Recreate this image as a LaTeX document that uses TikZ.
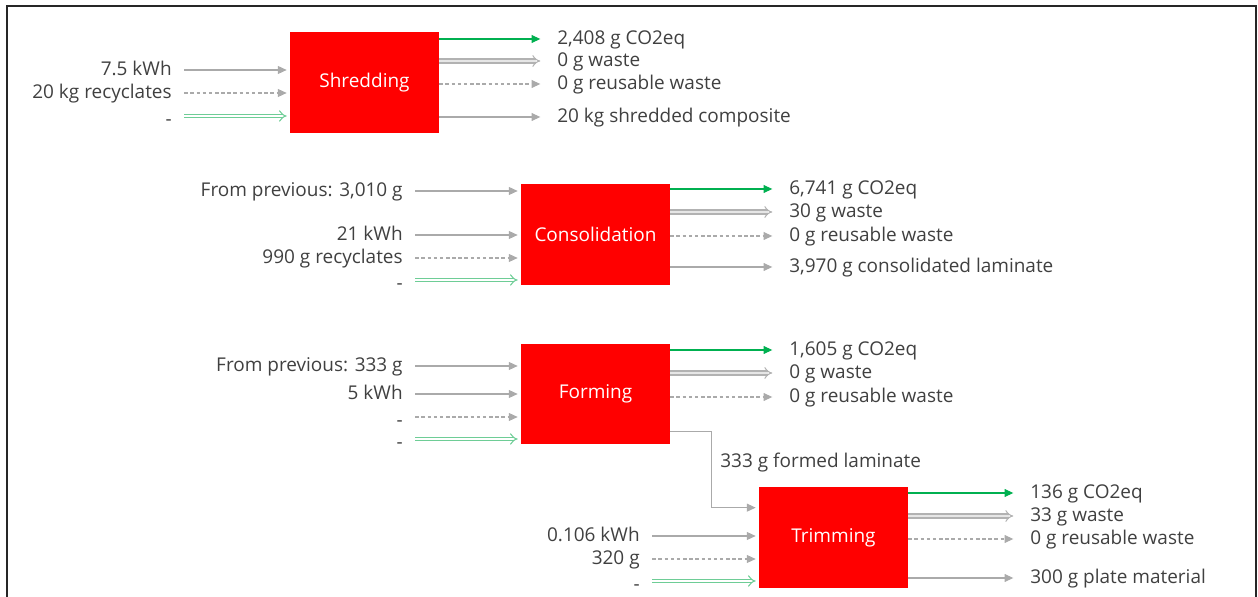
\documentclass[tikz,border=0pt]{standalone}
\usepackage{fontspec}
\setmainfont{Open Sans}
\usetikzlibrary{arrows.meta,calc}
\definecolor{procred}{RGB}{255,0,0}
\definecolor{cogreen}{RGB}{0,176,80}
\definecolor{ltgreen}{RGB}{110,205,150}
\definecolor{flowgray}{RGB}{170,170,170}
\definecolor{txtgray}{RGB}{64,64,64}
\tikzset{
  proc/.style={fill=procred, text=white, font=\fontsize{10.8}{12}\selectfont,
               minimum width=2.98cm, minimum height=2.02cm, inner sep=0pt},
  lin/.style={anchor=east, text=txtgray, inner sep=0pt,
              text height=1.5ex, text depth=0.3ex,
              font=\fontsize{10.8}{12}\selectfont},
  lnil/.style={lin, text height=2ex, text depth=0pt},
  lout/.style={anchor=west, text=txtgray, inner sep=0pt,
               text height=1.5ex, text depth=0.3ex,
               font=\fontsize{10.8}{12}\selectfont},
  flow/.style={-{Triangle[length=5pt,width=4.5pt]}, draw=flowgray, line width=0.6pt},
  dflow/.style={flow, dash pattern=on 2pt off 1.5pt},
  co2/.style={-{Triangle[length=5pt,width=4.5pt]}, draw=cogreen, line width=0.6pt},
  wst/.style={-{Implies}, draw=flowgray!90, double=flowgray!30,
              line width=0.6pt, double distance=1.7pt},
  nil/.style={-{Implies}, draw=ltgreen, double=white,
              line width=0.6pt, double distance=1.6pt},
  ins/.style={shorten <=7pt, shorten >=1.7pt},
  outs/.style={shorten >=9.5pt},
}

\begin{document}
\begin{tikzpicture}[x=0.02cm, y=-0.02cm]
\useasboundingbox (0,0) rectangle (1258,597);
\draw[line width=1.1pt, black!85] (7,597) -- (7,6) -- (1256,6) -- (1256,597);

% Shredding
\node[proc] (sh) at (364.5,82.5) {Shredding};
\node[lin]  (sh-kwh) at (172,70)  {7.5 kWh};
\node[lin]  (sh-rec) at (172,93)  {20 kg recyclates};
\node[lnil] (sh-nil) at (172,116) {-};
\node[lout] (sh-co2) at (557,39)  {2,408 g CO2eq};
\node[lout] (sh-wst) at (557,61)  {0 g waste};
\node[lout] (sh-reu) at (557,84)  {0 g reusable waste};
\node[lout] (sh-prd) at (557,117) {20 kg shredded composite};

\draw[flow,ins]  (sh-kwh) -- (sh-kwh -| sh.west);
\draw[dflow,ins] (sh-rec) -- (sh-rec -| sh.west);
\draw[nil,ins]   (sh-nil) -- (sh-nil -| sh.west);
\draw[co2,outs]  (sh-co2 -| sh.east) -- (sh-co2);
\draw[wst,outs]  (sh-wst -| sh.east) -- (sh-wst);
\draw[dflow,outs] (sh-reu -| sh.east) -- (sh-reu);
\draw[flow,outs] (sh-prd -| sh.east) -- (sh-prd);

% Consolidation
\node[proc] (co) at (595.5,234.5) {Consolidation};
\node[lin]  (co-prev) at (403,191) {From previous: 3,010 g};
\node[lin]  (co-kwh)  at (403,235) {21 kWh};
\node[lin]  (co-rec)  at (403,258) {990 g recyclates};
\node[lnil] (co-nil)  at (403,280) {-};
\node[lout] (co-co2)  at (789,189) {6,741 g CO2eq};
\node[lout] (co-wst)  at (789,212) {30 g waste};
\node[lout] (co-reu)  at (789,236) {0 g reusable waste};
\node[lout] (co-prd)  at (789,267) {3,970 g consolidated laminate};

\draw[flow,ins]  (co-prev) -- (co-prev -| co.west);
\draw[flow,ins]  (co-kwh) -- (co-kwh -| co.west);
\draw[dflow,ins] (co-rec) -- (co-rec -| co.west);
\draw[nil,ins]   (co-nil) -- (co-nil -| co.west);
\draw[co2,outs]  (co-co2 -| co.east) -- (co-co2);
\draw[wst,outs]  (co-wst -| co.east) -- (co-wst);
\draw[dflow,outs] (co-reu -| co.east) -- (co-reu);
\draw[flow,outs] (co-prd -| co.east) -- (co-prd);

% Forming
\node[proc] (fo) at (595.5,394) {Forming};
\node[lin]  (fo-prev) at (403,366) {From previous: 333 g};
\node[lin]  (fo-kwh)  at (403,394) {5 kWh};
\node[lnil] (fo-rec)  at (403,417) {-};
\node[lnil] (fo-nil)  at (403,439) {-};
\node[lout] (fo-co2)  at (789,350) {1,605 g CO2eq};
\node[lout] (fo-wst)  at (789,373) {0 g waste};
\node[lout] (fo-reu)  at (789,397) {0 g reusable waste};
\node[lout] (fo-lam)  at (720,462) {333 g formed laminate};

\draw[flow,ins]  (fo-prev) -- (fo-prev -| fo.west);
\draw[flow,ins]  (fo-kwh) -- (fo-kwh -| fo.west);
\draw[dflow,ins] (fo-rec) -- (fo-rec -| fo.west);
\draw[nil,ins]   (fo-nil) -- (fo-nil -| fo.west);
\draw[co2,outs]  (fo-co2 -| fo.east) -- (fo-co2);
\draw[wst,outs]  (fo-wst -| fo.east) -- (fo-wst);
\draw[dflow,outs] (fo-reu -| fo.east) -- (fo-reu);

% Trimming
\node[proc] (tr) at (833.5,537.5) {Trimming};
\node[lin]  (tr-kwh) at (640,536) {0.106 kWh};
\node[lin]  (tr-rec) at (640,559) {320 g};
\node[lnil] (tr-nil) at (640,581) {-};
\node[lout] (tr-co2) at (1030,493) {136 g CO2eq};
\node[lout] (tr-wst) at (1030,516) {33 g waste};
\node[lout] (tr-reu) at (1030,539) {0 g reusable waste};
\node[lout] (tr-prd) at (1030,578) {300 g plate material};

\draw[flow,shorten >=1.7pt] ($(fo.south east)+(0,-13)$) -- ++(41,0)
  |- ($(tr.north west)+(0,21)$);
\draw[flow,ins]  (tr-kwh) -- (tr-kwh -| tr.west);
\draw[dflow,ins] (tr-rec) -- (tr-rec -| tr.west);
\draw[nil,ins]   (tr-nil) -- (tr-nil -| tr.west);
\draw[co2,outs]  (tr-co2 -| tr.east) -- (tr-co2);
\draw[wst,outs]  (tr-wst -| tr.east) -- (tr-wst);
\draw[dflow,outs] (tr-reu -| tr.east) -- (tr-reu);
\draw[flow,outs] (tr-prd -| tr.east) -- (tr-prd);
\end{tikzpicture}
\end{document}
